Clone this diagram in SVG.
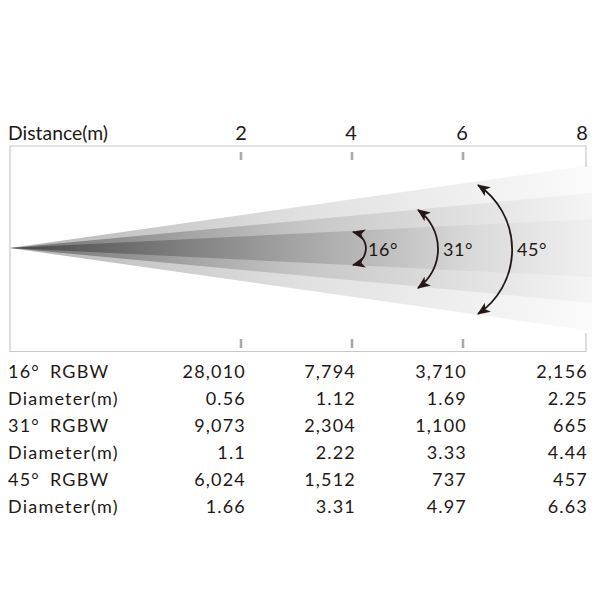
<svg xmlns="http://www.w3.org/2000/svg" width="600" height="600" viewBox="0 0 600 600">
<style>
text{font-family:Lato,"Open Sans","Liberation Sans",sans-serif;fill:#231815}
.hd{font-size:20px}
.tb{font-size:18px;letter-spacing:1.2px}
.r{text-anchor:end}
.ang{font-size:18px;letter-spacing:0.5px}
.frame{fill:none;stroke:#c9c9c9;stroke-width:1.2}
.tick{stroke:#a9a9a9;stroke-width:2.6}
.arc{fill:none;stroke:#231815;stroke-width:1.8;marker-start:url(#ah);marker-end:url(#ah)}
</style>
<defs>
<marker id="ah" viewBox="0 0 12 10" refX="11" refY="5" markerWidth="13" markerHeight="11" markerUnits="userSpaceOnUse" orient="auto-start-reverse">
<path d="M0,0 L12,5 L0,10 L3,5 Z" fill="#231815"/>
</marker>
<linearGradient id="gOuter" gradientUnits="userSpaceOnUse" x1="10" y1="0" x2="592" y2="0">
<stop offset="0" stop-color="#b5b5b5"/><stop offset="0.5" stop-color="#e0e0e0"/><stop offset="1" stop-color="#fbfbfb"/>
</linearGradient>
<linearGradient id="gMid" gradientUnits="userSpaceOnUse" x1="10" y1="0" x2="592" y2="0">
<stop offset="0" stop-color="#6e6e6e"/><stop offset="0.5" stop-color="#c6c6c6"/><stop offset="1" stop-color="#f5f5f5"/>
</linearGradient>
<linearGradient id="gCore" gradientUnits="userSpaceOnUse" x1="10" y1="0" x2="592" y2="0">
<stop offset="0" stop-color="#474747"/><stop offset="0.5" stop-color="#a6a6a6"/><stop offset="0.8" stop-color="#dadada"/><stop offset="1" stop-color="#f0f0f0"/>
</linearGradient>
</defs>

<g id="beam">
<polygon points="10,248 592,165 592,331" fill="url(#gOuter)"/>
<polygon points="10,248 592,193 592,303" fill="url(#gMid)"/>
<polygon points="10,248 592,219 592,277" fill="url(#gCore)"/>
</g>

<g id="frame">
<polyline class="frame" points="586,167 586,146 10,146 10,351.5 586,351.5 586,333"/>
</g>

<g id="ticks">
<line class="tick" x1="241" y1="152" x2="241" y2="160"/>
<line class="tick" x1="352" y1="152" x2="352" y2="160"/>
<line class="tick" x1="463" y1="152" x2="463" y2="160"/>
<line class="tick" x1="241" y1="339" x2="241" y2="348"/>
<line class="tick" x1="352" y1="339" x2="352" y2="348"/>
<line class="tick" x1="463" y1="339" x2="463" y2="348"/>
</g>

<g id="header">
<text class="hd" x="8" y="140" textLength="100" lengthAdjust="spacingAndGlyphs">Distance(m)</text>
<text class="hd" x="241" y="140" text-anchor="middle">2</text>
<text class="hd" x="351" y="140" text-anchor="middle">4</text>
<text class="hd" x="462" y="140" text-anchor="middle">6</text>
<text class="hd" x="582" y="140" text-anchor="middle">8</text>
</g>

<g id="connectors">
<path class="arc" d="M353,232 A17,17 0 0 1 353,265"/>
<path class="arc" d="M418,210 A48,48 0 0 1 418,288"/>
<path class="arc" d="M478,185 A78,78 0 0 1 478,314"/>
</g>

<g id="angle-labels">
<text class="ang" x="368" y="256">16°</text>
<text class="ang" x="443" y="256">31°</text>
<text class="ang" x="517" y="256">45°</text>
</g>

<g id="table">
<text class="tb" x="8" y="378">16°<tspan x="50">RGBW</tspan></text>
<text class="tb r" x="246" y="378">28,010</text>
<text class="tb r" x="356" y="378">7,794</text>
<text class="tb r" x="467" y="378">3,710</text>
<text class="tb r" x="588" y="378">2,156</text>

<text class="tb" x="8" y="405">Diameter(m)</text>
<text class="tb r" x="246" y="405">0.56</text>
<text class="tb r" x="356" y="405">1.12</text>
<text class="tb r" x="467" y="405">1.69</text>
<text class="tb r" x="588" y="405">2.25</text>

<text class="tb" x="8" y="432">31°<tspan x="50">RGBW</tspan></text>
<text class="tb r" x="246" y="432">9,073</text>
<text class="tb r" x="356" y="432">2,304</text>
<text class="tb r" x="467" y="432">1,100</text>
<text class="tb r" x="588" y="432">665</text>

<text class="tb" x="8" y="459">Diameter(m)</text>
<text class="tb r" x="246" y="459">1.1</text>
<text class="tb r" x="356" y="459">2.22</text>
<text class="tb r" x="467" y="459">3.33</text>
<text class="tb r" x="588" y="459">4.44</text>

<text class="tb" x="8" y="486">45°<tspan x="50">RGBW</tspan></text>
<text class="tb r" x="246" y="486">6,024</text>
<text class="tb r" x="356" y="486">1,512</text>
<text class="tb r" x="467" y="486">737</text>
<text class="tb r" x="588" y="486">457</text>

<text class="tb" x="8" y="513">Diameter(m)</text>
<text class="tb r" x="246" y="513">1.66</text>
<text class="tb r" x="356" y="513">3.31</text>
<text class="tb r" x="467" y="513">4.97</text>
<text class="tb r" x="588" y="513">6.63</text>
</g>
</svg>
